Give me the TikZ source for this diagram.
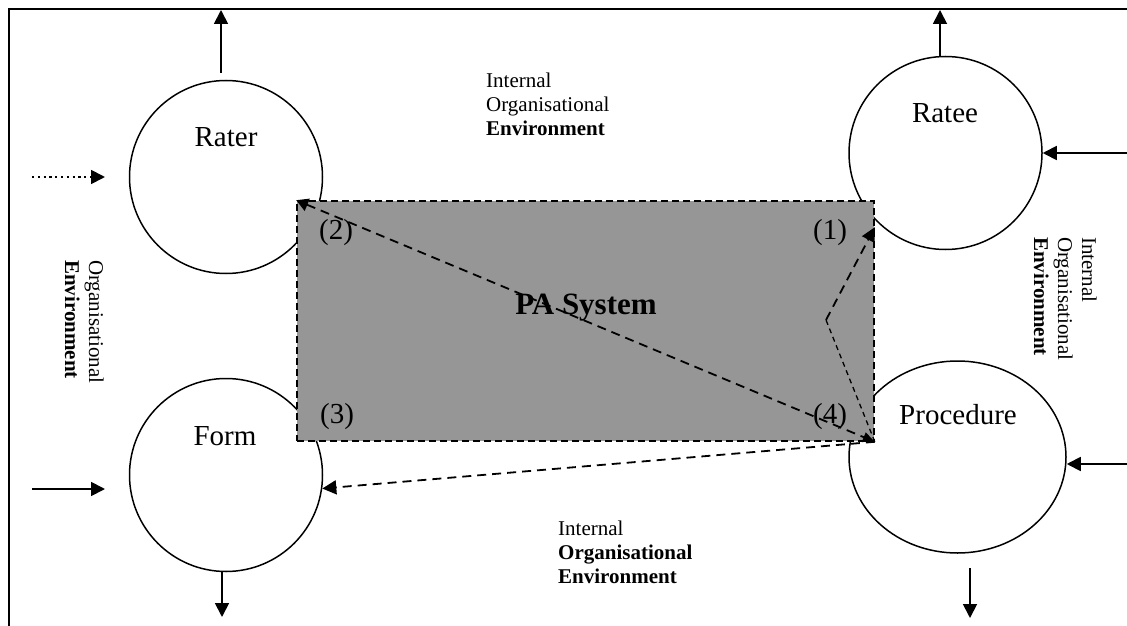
\documentclass[tikz,border=0pt]{standalone}
\usepackage{fontspec}
\setmainfont{Liberation Serif}
\usetikzlibrary{arrows.meta,calc,shapes.geometric}
\definecolor{pagray}{RGB}{150,150,150}
\begin{document}
\begin{tikzpicture}[x=1pt,y=-1pt,
  tipstyle/.style={-{Triangle[length=14pt,width=14pt]}},
  solidarrow/.style={line width=1.8pt, tipstyle},
  dotarrow/.style={line width=1.8pt, dash pattern=on 2.2pt off 3.6pt, tipstyle},
  dasharrow/.style={line width=1.8pt, dash pattern=on 9pt off 6pt, tipstyle},
  finedash/.style={line width=1.3pt, dash pattern=on 5pt off 4pt},
  actor/.style={circle, draw, line width=1.5pt, minimum size=193pt, inner sep=0pt},
  biglbl/.style={font=\fontsize{29}{33}\selectfont, inner sep=0pt},
  smalltxt/.style={font=\fontsize{21}{24}\selectfont, align=left, inner sep=0pt, anchor=north west},
]
\useasboundingbox (0,0) rectangle (1127,626);
% frame
\draw[line width=1.8pt] (9,626) -- (9,9) -- (1127,9);

% actors
\node[actor] (rater) at (226,177) {};
\node[actor] (ratee) at (945.5,153) {};
\node[actor] (form) at (226,475) {};
\node[ellipse, draw, line width=1.5pt, minimum width=217pt, minimum height=192pt, inner sep=0pt] (procedure) at (957.5,457) {};

% PA system box
\node[draw, line width=1.6pt, dash pattern=on 7pt off 4pt, fill=pagray,
      minimum width=577pt, minimum height=240pt, inner sep=0pt] (pa) at (585.5,321) {};

% labels in circles
\node[biglbl, anchor=base] (raterlbl) at (226,146) {Rater};
\node[biglbl, anchor=base] (rateelbl) at (945,122) {Ratee};
\node[biglbl, anchor=base] (formlbl) at (225,445) {Form};
\node[biglbl, anchor=base] (proclbl) at (958,424) {Procedure};

% corner numbers
\node[biglbl] (n1) at (830,233) {(1)};
\node[biglbl] (n2) at (336,233) {(2)};
\node[biglbl] (n3) at (337,417) {(3)};
\node[biglbl] (n4) at (830,417) {(4)};

\node[font=\fontsize{31}{35}\selectfont\bfseries, inner sep=0pt, anchor=base] (pasys) at (586,314) {PA System};

% environment texts
\node[smalltxt] (toptxt) at (486,73) {Internal\\Organisational\\\textbf{Environment}};
\node[smalltxt] (bottxt) at (558,521) {Internal\\\textbf{Organisational}\\\textbf{Environment}};
\node[smalltxt, rotate=-90] (righttxt) at (1097,237) {Internal\\Organisational\\\textbf{Environment}};
\node[smalltxt, rotate=-90] (lefttxt) at (104,260) {Organisational\\\textbf{Environment}};

% free-end coordinates
\coordinate (raterUpS) at (221,73);
\coordinate (raterUpE) at (221,10);
\coordinate (rateeUpE) at (940,10);
\coordinate (dotS) at (32,177);
\coordinate (dotE) at (105,177);
\coordinate (formInS) at (32,489);
\coordinate (formInE) at (105,489);
\coordinate (formDownE) at (222,617);
\coordinate (procDownS) at (970,568);
\coordinate (procDownE) at (970,618);
\coordinate (rateeInS) at (1127,153);
\coordinate (procInS) at (1127,464);
\coordinate (bend) at (826,320);
\coordinate (oneTip) at ($(pa.north east)+(0,27)$);

% solid arrows
\draw[solidarrow] (raterUpS) -- (raterUpE);
\draw[solidarrow] (ratee.north -| rateeUpE) -- (rateeUpE);
\draw[dotarrow] (dotS) -- (dotE);
\draw[solidarrow] (formInS) -- (formInE);
\draw[solidarrow] (form.south -| formDownE) -- (formDownE);
\draw[solidarrow] (procDownS) -- (procDownE);
\draw[solidarrow] (rateeInS) -- (ratee.east);
\draw[solidarrow] (procInS) -- (procInS -| procedure.east);

% dashed arrows in PA system
\draw[dasharrow, {Triangle[length=12pt,width=13pt]}-{Triangle[length=12pt,width=10pt]}] (pa.north west) -- (pa.south east);
\draw[finedash] (pa.south east) -- (bend);
\draw[dasharrow] (bend) -- (oneTip);
\draw[dasharrow] (pa.south east) -- (form.-8);
\end{tikzpicture}
\end{document}
